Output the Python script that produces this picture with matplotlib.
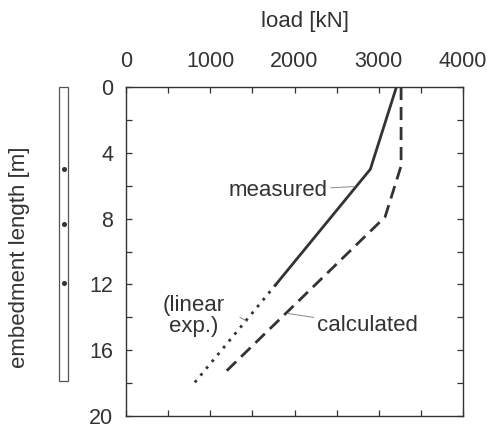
import matplotlib

matplotlib.use("Agg")
import matplotlib.pyplot as plt
from matplotlib.patches import Rectangle
from matplotlib.transforms import blended_transform_factory

plt.rcParams["font.family"] = ["Liberation Sans", "DejaVu Sans"]

INK = "#333333"

# measured load distribution along the pile (depth in m, load in kN)
measured_depth = [0.0, 5.0, 12.0]
measured_load = [3210, 2900, 1780]
# linear extrapolation of the measured curve
extrap_depth = [12.0, 18.0]
extrap_load = [1780, 810]
# calculated distribution
calc_depth = [0.0, 4.8, 7.9, 17.5]
calc_load = [3265, 3265, 3075, 1145]

pile_length = 17.9
gauge_depths = [5.0, 8.3, 11.9]

x_ticks = [0, 1000, 2000, 3000, 4000]
y_ticks = [0, 4, 8, 12, 16, 20]

fig = plt.figure(figsize=(4.9, 4.3), dpi=100)
ax = fig.add_axes([126 / 490, 1 - 416 / 430, 337 / 490, 329 / 430])

ax.plot(measured_load, measured_depth, color=INK, lw=2.0, solid_joinstyle="miter")
ax.plot(extrap_load, extrap_depth, color=INK, lw=2.0, linestyle=(0, (1.0, 2.2)))
ax.plot(calc_load, calc_depth, color=INK, lw=2.0, linestyle=(0, (4.7, 2.5)))

ax.set_xlim(0, 4000)
ax.set_ylim(20, 0)
ax.set_xticks(x_ticks)
ax.set_xticks(range(500, 4000, 1000), minor=True)
ax.set_yticks(y_ticks)
ax.set_yticks(range(2, 20, 4), minor=True)
ax.tick_params(which="both", direction="in", length=4.5, width=0.9, color=INK,
               top=True, bottom=True, left=True, right=True,
               labeltop=True, labelbottom=False, labelsize=15.5, labelcolor=INK)
ax.tick_params(axis="x", which="both", pad=11)
ax.tick_params(axis="y", which="both", pad=9)
for sp in ax.spines.values():
    sp.set_color(INK)
    sp.set_linewidth(1.0)

fig.text(305 / 490, 1 - 22 / 430, "load [kN]", fontsize=16, color=INK, ha="center", va="center")
fig.text(20 / 490, 1 - 257 / 430, "embedment length [m]", fontsize=16, color=INK,
         rotation=90, ha="center", va="center")

# pile sketch with gauge positions, left of the axis
tr = blended_transform_factory(fig.transFigure, ax.transData)
ax.add_patch(Rectangle((59 / 490, 0), 9 / 490, pile_length, transform=tr, clip_on=False,
                       facecolor="white", edgecolor="#555555", lw=0.9))
ax.plot([63.5 / 490] * len(gauge_depths), gauge_depths, "o", ms=2.6, color=INK,
        transform=tr, clip_on=False)

leader = dict(arrowstyle="-", color="#888888", lw=0.7, shrinkA=0, shrinkB=0)
ax.annotate("measured", xy=(2718, 6.05), xytext=(2398, 6.3), fontsize=16, color=INK,
            ha="right", va="center", arrowprops=leader)
ax.annotate("(linear\nexp.)", xy=(1436, 14.25), xytext=(807, 13.9), fontsize=16, color=INK,
            ha="center", va="center", linespacing=1.0)
ax.plot([1353, 1436], [14.0, 14.25], color="#888888", lw=0.7)
ax.annotate("calculated", xy=(1923, 13.77), xytext=(2262, 14.5), fontsize=16, color=INK,
            ha="left", va="center", arrowprops=leader)

fig.savefig("out.png", dpi=100, facecolor="white")
